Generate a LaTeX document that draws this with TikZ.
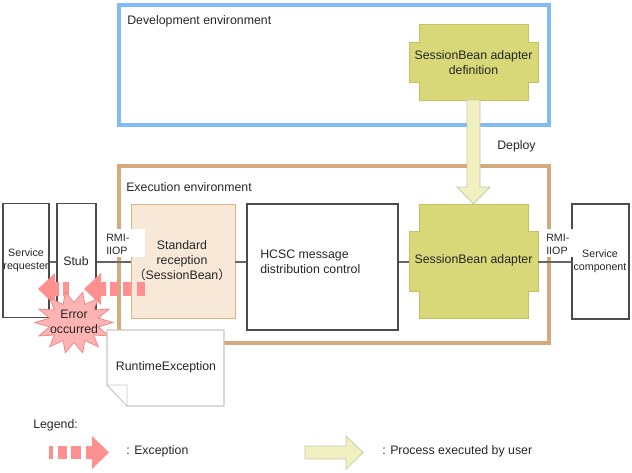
\documentclass[tikz,border=0pt]{standalone}
\usepackage{fontspec}
\setmainfont{Liberation Sans}
\newfontfamily\cjk{Noto Sans CJK JP}
\usetikzlibrary{positioning}
\definecolor{framedev}{HTML}{7FBBF5}
\definecolor{frameexec}{HTML}{D4A97E}
\definecolor{olivefill}{HTML}{D8D878}
\definecolor{oliveedge}{HTML}{C2C262}
\definecolor{stdfill}{HTML}{F8E8D8}
\definecolor{stdedge}{HTML}{E0B27F}
\definecolor{deployfill}{HTML}{F0F0C0}
\definecolor{deployedge}{HTML}{C8C8B0}
\definecolor{excred}{HTML}{FF9090}
\definecolor{burstfill}{HTML}{FFB4B4}
\definecolor{burstedge}{HTML}{F08888}
\tikzset{
    txt/.style={font=\fontsize{9.25}{11.25}\selectfont, text=black!85, inner sep=0pt, yshift=-.6pt},
    smalltxt/.style={font=\fontsize{8}{9.6}\selectfont, text=black!85, inner sep=0pt, yshift=-.4pt},
    plainbox/.style={draw=black!70, line width=.8pt, fill=white, inner sep=0pt},
    conn/.style={draw=black!60, line width=.8pt},
    adapter/.style={draw=oliveedge, fill=olivefill, line width=.5pt},
    deployarrow/.style={draw=deployedge, fill=deployfill, line width=.6pt},
    excarrow/.style={fill=excred, draw=none}
}
% adapter outline: left, right, top, bottom, notch top, notch bottom
\newcommand{\adaptershape}[6]{
    \path[adapter] (#1,#5) -- ({#1+10},#5) -- ({#1+10},#3) -- ({#2-10},#3) -- ({#2-10},#5) -- (#2,#5)
        -- (#2,#6) -- ({#2-10},#6) -- ({#2-10},#4) -- ({#1+10},#4) -- ({#1+10},#6) -- (#1,#6) -- cycle;
}
\begin{document}
\begin{tikzpicture}[x=0.75pt, y=-0.75pt]
    \useasboundingbox (0,0) rectangle (632,472);
    \coordinate (busline) at (0,262);
    % frames
    \draw[framedev, line width=3pt] (119,5) rectangle (549,125);
    \node[txt, anchor=west] (devlabel) at (127,21) {Development environment};
    \draw[frameexec, line width=3pt] (119,166) rectangle (549,343);
    \node[txt, anchor=west] (execlabel) at (126,186) {Execution environment};
    % boxes
    \node[plainbox, minimum width=34.5pt, minimum height=85pt] (requester) at (26,260.5) {};
    \node[plainbox, minimum width=29.25pt, minimum height=85pt] (stub) at (76.5,260.5) {};
    \node[plainbox, minimum width=113.25pt, minimum height=94.5pt] (hcsc) at (322.5,267) {};
    \node[plainbox, minimum width=42.75pt, minimum height=86.25pt] (component) at (600.5,261.5) {};
    \node[draw=stdedge, fill=stdfill, line width=.6pt, inner sep=0pt, minimum width=78pt, minimum height=85.5pt] (standard) at (183,261) {};
    \adaptershape{409}{538}{24}{100}{42}{82}
    \adaptershape{409}{538}{204}{318}{231}{291}
    \coordinate (adapterleft) at (409,262);
    \coordinate (adapterright) at (538,262);
    % connectors
    \draw[conn] (requester.east |- busline) -- (stub.west |- busline);
    \draw[conn] (stub.east |- busline) -- (standard.west |- busline);
    \draw[conn] (standard.east |- busline) -- (hcsc.west |- busline);
    \draw[conn] (hcsc.east |- busline) -- (adapterleft);
    \draw[conn] (adapterright) -- (component.west |- busline);
    % RMI-IIOP labels sit on white patches
    \fill[white] (105,229) rectangle (145,257);
    \fill[white] (546,229) rectangle (574,257);
    \node[smalltxt, align=left, anchor=west] (rmileft) at (106,244) {RMI-\\IIOP};
    \node[smalltxt, align=left, anchor=west] (rmiright) at (546,244) {RMI-\\IIOP};
    % texts of the boxes
    \node[smalltxt, align=center] (requestertxt) at (26,260) {Service\\requester};
    \node[txt] (stubtxt) at (76,260) {Stub};
    \node[txt, align=center] (standardtxt) at (182,260) {Standard\\reception\\{\cjk （}SessionBean{\cjk ）}};
    \node[txt, align=left, anchor=west] (hcsctxt) at (260,260.5) {HCSC message\\distribution control};
    \node[txt, align=center] (definitiontxt) at (473.5,61.5) {SessionBean adapter\\definition};
    \node[txt] (adaptertxt) at (473.5,260) {SessionBean adapter};
    \node[smalltxt, align=center] (componenttxt) at (600,260.5) {Service\\component};
    % deploy arrow
    \path[deployarrow] (467,100) -- (480,100) -- (480,187) -- (490,187) -- (473.5,204) -- (457,187) -- (467,187) -- cycle;
    \node[txt, anchor=west] (deploytxt) at (497,146) {Deploy};
    % exception arrows
    \fill[excarrow] (84,289) -- (101,273) -- (101,282) -- (106,282) -- (106,296) -- (101,296) -- (101,305) -- cycle;
    \foreach \xa/\xb in {110/118, 123/131, 137/145}
        \fill[excarrow] (\xa,282) rectangle (\xb,296);
    \fill[excarrow] (38,289) -- (55,273) -- (55,282) -- (59,282) -- (59,296) -- (55,296) -- (55,305) -- cycle;
    \fill[excarrow] (63,282) rectangle (69,296);
    % burst
    \draw[fill=burstfill, draw=burstedge, line width=.6pt] plot[samples at={0,...,27}]
        ({74+(mod(\x,2)==0 ? 39 : 25)*cos(\x*360/28)}, {322.5+(mod(\x,2)==0 ? 31 : 20)*sin(\x*360/28)}) -- cycle;
    \node[txt, align=center] (errortxt) at (74,321.5) {Error\\occurred};
    % note
    \draw[draw=black!22, line width=.8pt, fill=white] (107,330) -- (224,330) -- (224,406) -- (127,406) -- (107,385) -- cycle;
    \draw[draw=black!22, line width=.6pt, fill=white] (107,385) -- (127,385) -- (127,406) -- cycle;
    \node[txt] (notetxt) at (166,367) {RuntimeException};
    % legend
    \node[txt, anchor=west] (legendtxt) at (33,425) {Legend:};
    \foreach \xa/\xb in {49/53, 58/67, 71/81}
        \fill[excarrow] (\xa,446) rectangle (\xb,459);
    \fill[excarrow] (86,446) -- (92,446) -- (92,436) -- (109,452.5) -- (92,469) -- (92,459) -- (86,459) -- cycle;
    \node[txt, anchor=west] (exctxt) at (126,451) {: Exception};
    \path[deployarrow] (305,446) -- (346,446) -- (346,436) -- (363,452.5) -- (346,469) -- (346,459) -- (305,459) -- cycle;
    \node[txt, anchor=west] (processtxt) at (382,451) {: Process executed by user};
\end{tikzpicture}
\end{document}
